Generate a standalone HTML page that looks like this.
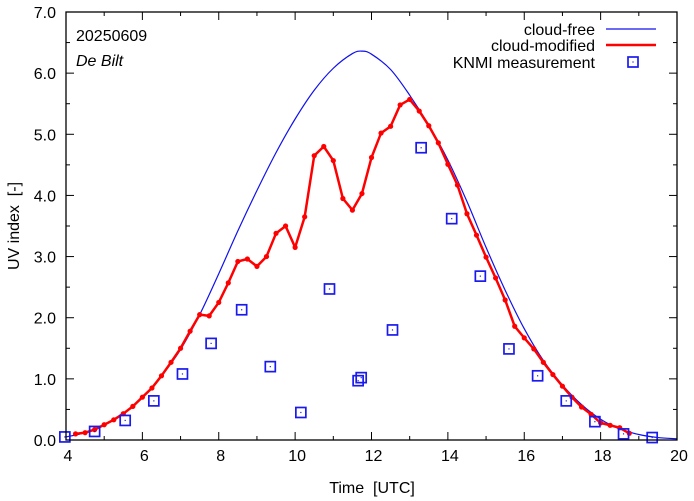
<!DOCTYPE html>
<html><head><meta charset="utf-8">
<style>
body{margin:0;background:#fff;}
svg{display:block;font-family:"Liberation Sans",sans-serif;}
</style></head>
<body>
<svg id="chart" width="694" height="501" xmlns="http://www.w3.org/2000/svg"></svg>
<script>
const xTicks=[4,6,8,10,12,14,16,18,20];
const yTicks=[0,1,2,3,4,5,6,7];
const freeT=[4,4.5,5,5.5,6,6.5,7,7.5,8,8.5,9,9.5,10,10.5,11,11.5,11.75,12,12.5,13,13.5,14,14.5,15,15.5,16,16.5,17,17.5,18,18.5,19,19.5,20];
const freeV=[0.05,0.12,0.25,0.43,0.7,1.05,1.48,2.05,2.72,3.42,4.08,4.7,5.25,5.72,6.08,6.32,6.36,6.31,6.06,5.64,5.15,4.58,3.9,3.15,2.45,1.82,1.3,0.9,0.58,0.34,0.18,0.09,0.04,0.02];
const cloudT=[4.25,4.5,4.75,5,5.25,5.5,5.75,6,6.25,6.5,6.75,7,7.25,7.5,7.75,8,8.25,8.5,8.75,9,9.25,9.5,9.75,10,10.25,10.5,10.75,11,11.25,11.5,11.75,12,12.25,12.5,12.75,13,13.25,13.5,13.75,14,14.25,14.5,14.75,15,15.25,15.5,15.75,16,16.25,16.5,16.75,17,17.25,17.5,17.75,18,18.25,18.5,18.75];
const cloudV=[0.1,0.12,0.17,0.25,0.33,0.43,0.55,0.7,0.85,1.05,1.27,1.5,1.78,2.05,2.03,2.25,2.57,2.92,2.96,2.84,3.0,3.38,3.5,3.15,3.65,4.65,4.8,4.57,3.95,3.76,4.03,4.62,5.02,5.13,5.48,5.57,5.38,5.14,4.86,4.51,4.17,3.7,3.35,2.99,2.65,2.29,1.86,1.67,1.49,1.27,1.07,0.88,0.7,0.54,0.42,0.28,0.24,0.2,0.11];
const measT=[3.97,4.75,5.55,6.3,7.05,7.8,8.6,9.35,10.15,10.9,11.65,11.73,12.55,13.3,14.1,14.85,15.6,16.35,17.1,17.85,18.6,19.35];
const measV=[0.05,0.14,0.32,0.64,1.08,1.58,2.13,1.2,0.45,2.47,0.97,1.02,1.8,4.78,3.62,2.68,1.49,1.05,0.64,0.3,0.1,0.04];

const L=66,R=677,T=12,B=440;
const X=t=>L+(t-4)/16*(R-L);
const Y=v=>B-v/7*(B-T);
const svg=document.getElementById('chart');
const NS='http://www.w3.org/2000/svg';
function mk(tag,attrs,parent){const e=document.createElementNS(NS,tag);for(const k in attrs)e.setAttribute(k,attrs[k]);(parent||svg).appendChild(e);return e;}

for(let h=4;h<=20;h++){
  const x=X(h);const len=(h%2===0)?8:4;
  const tk=mk('line',{x1:x,y1:B,x2:x,y2:B-len,stroke:'#000','stroke-width':1});
  
  
  const tk2=mk('line',{x1:x,y1:T,x2:x,y2:T+len,stroke:'#000','stroke-width':1});
  
  
}
for(let v=0;v<=7.001;v+=0.5){
  const y=Y(v);const len=(Math.abs(v-Math.round(v))<0.01)?8:4;
  const tk=mk('line',{x1:L,y1:y,x2:L+len,y2:y,stroke:'#000','stroke-width':1});
  
  
  const tk2=mk('line',{x1:R,y1:y,x2:R-len,y2:y,stroke:'#000','stroke-width':1});
  
  
}
xTicks.forEach(t=>{
  const e=mk('text',{x:X(t)+2,y:B+21,'text-anchor':'middle','font-size':16,fill:'#000'});
  e.textContent=t;
  
  
});
yTicks.forEach(v=>{
  const e=mk('text',{x:L-10,y:Y(v)+6,'text-anchor':'end','font-size':16,fill:'#000'});
  e.textContent=v.toFixed(1);
  
  
});

function smooth(ts,vs){
  const p=ts.map((t,i)=>[X(t),Y(vs[i])]);
  let d='M'+p[0][0]+','+p[0][1];
  for(let i=0;i<p.length-1;i++){
    const p0=p[Math.max(0,i-1)],p1=p[i],p2=p[i+1],p3=p[Math.min(p.length-1,i+2)];
    const c1x=p1[0]+(p2[0]-p0[0])/6,c1y=p1[1]+(p2[1]-p0[1])/6;
    const c2x=p2[0]-(p3[0]-p1[0])/6,c2y=p2[1]-(p3[1]-p1[1])/6;
    d+=' C'+c1x+','+c1y+' '+c2x+','+c2y+' '+p2[0]+','+p2[1];
  }
  return d;
}
const free=mk('path',{d:smooth(freeT,freeV),fill:'none',stroke:'#1010ee','stroke-width':1.2});



const cl=mk('polyline',{points:cloudT.map((t,i)=>X(t)+','+Y(cloudV[i])).join(' '),fill:'none',stroke:'#f00','stroke-width':2.5,'stroke-linejoin':'round'});


cloudT.forEach((t,i)=>{
  const c=mk('circle',{cx:X(t),cy:Y(cloudV[i]),r:2.6,fill:'#f00'});
  
  
});
function sq(x,y){
  const g=mk('g',{});
  mk('rect',{x:x-5,y:y-5,width:10,height:10,fill:'none',stroke:'#1a1aee','stroke-width':1.7},g);
  mk('rect',{x:x-0.6,y:y-0.6,width:1.2,height:1.2,fill:'#1a1aee'},g);
  return g;
}
measT.forEach((t,i)=>{
  const g=sq(X(t),Y(measV[i]));
  
  
});

const fr=mk('rect',{x:L,y:T,width:R-L,height:B-T,fill:'none',stroke:'#000','stroke-width':1.3});



const lg=mk('g',{});


[['cloud-free',29],['cloud-modified',45],['KNMI measurement',62]].forEach(([s,y])=>{
  const e=mk('text',{x:595,y:y+6,'text-anchor':'end','font-size':16,fill:'#000'},lg);
  e.textContent=s;
  
  
});
mk('line',{x1:606,y1:29,x2:656,y2:29,stroke:'#1010ee','stroke-width':1.2},lg);
mk('line',{x1:606,y1:45,x2:656,y2:45,stroke:'#f00','stroke-width':2.5},lg);
sq(633,62);

const d1=mk('text',{x:76,y:41,'font-size':16,fill:'#000'});d1.textContent='20250609';


const d2=mk('text',{x:76,y:66,'font-size':16,'font-style':'italic',fill:'#000'});d2.textContent='De Bilt';


const xt=mk('text',{x:372,y:493,'text-anchor':'middle','font-size':16,fill:'#000'});xt.textContent='Time\u00a0\u00a0[UTC]';


const yt=mk('text',{x:0,y:0,'text-anchor':'middle','font-size':16,fill:'#000',transform:'translate(19,226) rotate(-90)'});yt.textContent='UV index\u00a0\u00a0[-]';


</script>
</body></html>
